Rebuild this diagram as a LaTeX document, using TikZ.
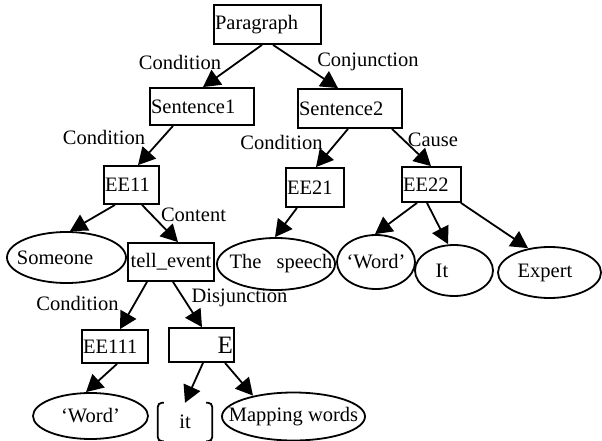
\documentclass[tikz,border=0pt]{standalone}
\usepackage{fontspec}
\setmainfont{Liberation Serif}
\usetikzlibrary{arrows.meta,calc,shapes.geometric}
\newcommand{\elltext}[2][0pt]{\makebox[0pt]{\hspace*{#1}#2}}

\begin{document}
\begin{tikzpicture}[x=1pt,y=-1pt,line join=miter,
  font=\fontsize{20.5}{24}\selectfont,
  box/.style={draw,line width=1.8pt,rectangle,inner sep=1pt,align=left},
  ell/.style={draw,line width=1.8pt,ellipse,inner sep=0pt},
  lbl/.style={inner sep=0pt},
  arr/.style={line width=1.8pt,-{Triangle[length=17pt,width=18pt]}}]
\useasboundingbox (0,0) rectangle (602,441);

% ---- boxes ----
\node[box,text width=105pt,minimum height=39pt] (par) at (267.5,24.5) {Paragraph};
\node[box,text width=102pt,minimum height=37pt] (s1) at (202,106.5) {Sentence1};
\node[box,text width=102pt,minimum height=39pt] (s2) at (350,108.5) {Sentence2};
\node[box,text width=53pt,minimum height=38pt] (ee11) at (131.5,185) {EE11};
\node[box,text width=56pt,minimum height=39pt] (ee21) at (315,187.5) {EE21};
\node[box,text width=57pt,minimum height=35pt] (ee22) at (431.5,184.5) {EE22};
\node[box,text width=84pt,minimum height=38pt,align=center] (tell) at (171,262) {tell\_event};
\node[box,text width=64pt,minimum height=33pt] (ee111) at (115,346.5) {EE111};
\node[box,text width=63pt,minimum height=34pt,align=right,
  font=\fontsize{25}{28}\selectfont] (ebox) at (201.5,345) {E};

% ---- ellipses ----
\node[ell,minimum width=119pt,minimum height=51pt] (someone) at (66.5,257.5) {\elltext[-23pt]{Someone}};
\node[ell,minimum width=118pt,minimum height=52pt] (speech) at (276,264) {\elltext[10pt]{The\hspace{15pt}speech}};
\node[ell,minimum width=78pt,minimum height=54pt] (word1) at (376,262) {\elltext{`Word'}};
\node[ell,minimum width=78pt,minimum height=51pt] (itn) at (454,270.5) {\elltext[-24pt]{It}};
\node[ell,minimum width=103pt,minimum height=51pt] (expert) at (549.5,272.5) {\elltext[-9pt]{Expert}};
\node[ell,minimum width=115pt,minimum height=46pt] (word2) at (90.5,416) {\elltext{`Word'}};
\node[ell,minimum width=143pt,minimum height=48pt] (mapping) at (293.5,416.5) {\elltext{Mapping words}};

% "it" between brackets
\node[inner sep=0pt,minimum width=54pt,minimum height=38pt] (itb) at (185,422) {it};
\draw[line width=1.8pt,rounded corners=4pt] ($(itb.north west)+(6,0)$) -- (itb.north west) -- (itb.south west) -- ($(itb.south west)+(6,0)$);
\draw[line width=1.8pt,rounded corners=4pt] ($(itb.north east)+(-6,0)$) -- (itb.north east) -- (itb.south east) -- ($(itb.south east)+(-6,0)$);

% ---- relation labels ----
\node[lbl] (lc1) at (180,62) {Condition};
\node[lbl] (lconj) at (368,62) {Conjunction};
\node[lbl] (lc2) at (104,137) {Condition};
\node[lbl] (lc3) at (281.5,142) {Condition};
\node[lbl] (lcause) at (433,140) {Cause};
\node[lbl] (lcont) at (193.5,215) {Content};
\node[lbl] (lc4) at (77.5,303) {Condition};
\node[lbl] (ldisj) at (239.5,298) {Disjunction};

% ---- arrows ----
\draw[arr] ($(par.south)+(-5.5,0)$) -- ($(s1.north)+(1,0)$);
\draw[arr] ($(par.south)+(5.5,0)$) -- ($(s2.north)+(-12,0)$);
\draw[arr] ($(s1.south)+(-29,0)$) -- ($(ee11.north)+(6.5,0)$);
\draw[arr] ($(s2.south)+(-2,0)$) -- ($(ee21.north)+(1,0)$);
\draw[arr] ($(s2.south)+(42,0)$) -- ($(ee22.north)+(-0.5,0)$);
\draw[arr] ($(ee11.south)+(-16.5,0)$) -- ($(someone.north)+(3.5,0)$);
\draw[arr] ($(ee11.south)+(10.5,0)$) -- ($(tell.north)+(7,0)$);
\draw[arr] ($(ee21.south)+(-18,0)$) -- ($(speech.north)+(-1,0)$);
\draw[arr] ($(ee22.south)+(-14.5,0)$) -- ($(word1.north)+(-1,0)$);
\draw[arr] ($(ee22.south)+(-4.5,0)$) -- ($(itn.north)+(-6,0)$);
\draw[arr] ($(ee22.south east)+(-1,0)$) -- ($(expert.north)+(-21.5,2)$);
\draw[arr] ($(tell.south)+(-24,0)$) -- ($(ee111.north)+(5,0)$);
\draw[arr] ($(tell.south)+(2,0)$) -- ($(ebox.north)+(0.5,0)$);
\draw[arr] ($(ee111.south)+(2,0)$) -- ($(word2.north)+(-4.5,0)$);
\draw[arr] ($(ebox.south)+(1.5,0)$) -- (itb.north);
\draw[arr] ($(ebox.south)+(23.5,0)$) -- ($(mapping.north)+(-40.5,4)$);
\end{tikzpicture}
\end{document}
